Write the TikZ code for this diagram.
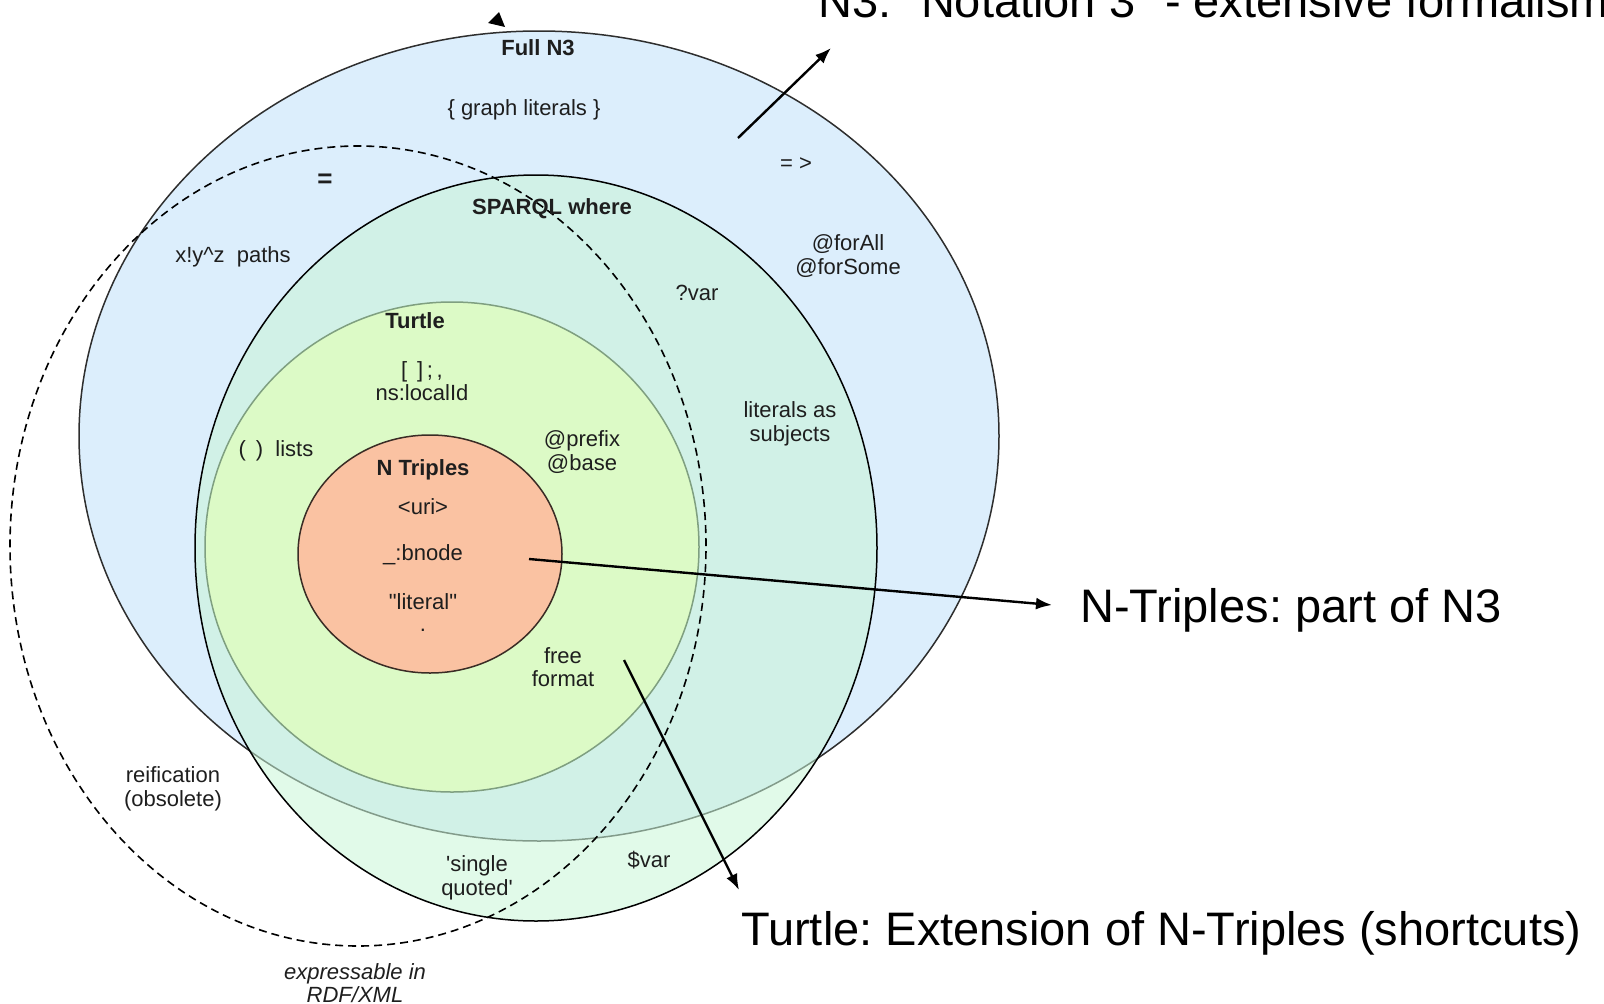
\documentclass[tikz,border=0pt]{standalone}
\usepackage{fontspec}
\setmainfont{Liberation Sans}
\usetikzlibrary{shapes.geometric,arrows.meta}

\definecolor{nthreefill}{HTML}{DCEEFC}
\definecolor{nthreeline}{HTML}{2E2E2E}
\definecolor{sparqlfill}{RGB}{200,245,215}
\definecolor{turtlefill}{HTML}{DCFAC6}
\definecolor{turtleline}{HTML}{7F9F80}
\definecolor{ntfill}{HTML}{FAC2A2}
\definecolor{ntline}{HTML}{3A2C25}
\definecolor{labelgray}{HTML}{1E1E1E}

\tikzset{
  region/.style={ellipse, inner sep=0pt, outer sep=0pt, line width=1.5pt},
  lbl/.style={font=\fontsize{22}{23.5}\selectfont, text=labelgray, align=center, inner sep=0pt},
  lblb/.style={lbl, font=\fontsize{22}{23.5}\selectfont\bfseries},
  big/.style={font=\fontsize{47}{56}\selectfont, anchor=base west, inner sep=0pt},
  conn/.style={line width=2.4pt, -{Latex[length=16pt,width=12pt]}},
}

\begin{document}
\frenchspacing
\begin{tikzpicture}[x=1pt, y=-1pt]
\useasboundingbox (0,0) rectangle (1604,1004);

% nested syntax regions
\node[region, fill=nthreefill, draw=nthreeline, minimum width=920pt, minimum height=810pt] (fulln3) at (539,436) {};
\node[region, fill=sparqlfill, fill opacity=0.55, draw=black, minimum width=682pt, minimum height=746pt] (sparql) at (536,548) {};
\node[region, fill=turtlefill, draw=turtleline, minimum width=494pt, minimum height=490pt] (turtle) at (452,547) {};
\node[region, fill=ntfill, draw=ntline, minimum width=264pt, minimum height=238pt] (ntriples) at (430,554) {};
% what RDF/XML can express
\node[region, draw=black, line width=1.6pt, dash pattern=on 8pt off 5pt, minimum width=696pt, minimum height=800pt] (rdfxml) at (358,546) {};

% region labels
\node[lblb] (lfull) at (538,48) {Full N3};
\node[lbl] (lgraph) at (524,110) {\{ graph literals \}};
\node[lbl] (limpl) at (796,164) {= >};
\node[lblb, font=\fontsize{26}{26}\selectfont\bfseries] (leq) at (325,181) {=};
\node[lblb] (lsparql) at (552,209) {SPARQL where};
\node[lbl] (lpaths) at (233,257) {x!y\textasciicircum z\ \ paths};
\node[lbl] (lforall) at (848,256) {@forAll\\@forSome};
\node[lbl] (lqvar) at (697,293) {?var};
\node[lblb] (lturtle) at (415,321) {Turtle};
\node[lbl] (lbrack) at (422,381) {[\,\ ]\,;\,,\\ns:localId};
\node[lbl] (llitsub) at (790,424) {literals as\\subjects};
\node[lbl] (llists) at (276,451) {(\,\ )\ \ lists};
\node[lbl] (lprefix) at (582,452) {@prefix\\@base};
\node[lblb] (lnt) at (423,470) {N Triples};
\node[lbl] (luri) at (423,507) {<uri>};
\node[lbl] (lbnode) at (423,555) {\_:bnode};
\node[lbl] (lliteral) at (423,602) {\textquotedbl literal\textquotedbl};
\node[lbl] (ldot) at (423,630) {.};
\node[lbl] (lfree) at (563,667) {free\\format};
\node[lbl] (lreif) at (173,789) {reification\\(obsolete)};
\node[lbl] (lsingle) at (477,878) {\textquotesingle single\\quoted\textquotesingle};
\node[lbl] (ldvar) at (649,860) {\$var};
\node[lbl, font=\fontsize{22}{23.5}\selectfont\itshape] (lexpr) at (355,983) {expressable in\\RDF/XML};

% explanatory captions
\node[big] (capnthree) at (818,17) {N3: \textquotedbl Notation 3\textquotedbl\ - extensive formalism};
\node[big] (capnt) at (1080,622) {N-Triples: part of N3};
\node[big] (capturtle) at (741,945) {Turtle: Extension of N-Triples (shortcuts)};

% connector end points
\coordinate (nthreefrom) at (738,138);
\coordinate (nthreeto) at (831,48);
\coordinate (ntfrom) at (529,559);
\coordinate (ntto) at (1052,605);
\coordinate (turtlefrom) at (624,660);
\coordinate (turtleto) at (739,890);

\draw[conn] (nthreefrom) -- (nthreeto);
\draw[conn] (ntfrom) -- (ntto);
\draw[conn] (turtlefrom) -- (turtleto);

% stray arrow head above the outer region
\fill[black] (499,12) -- (488,23) -- (505,27) -- cycle;
\end{tikzpicture}
\end{document}
